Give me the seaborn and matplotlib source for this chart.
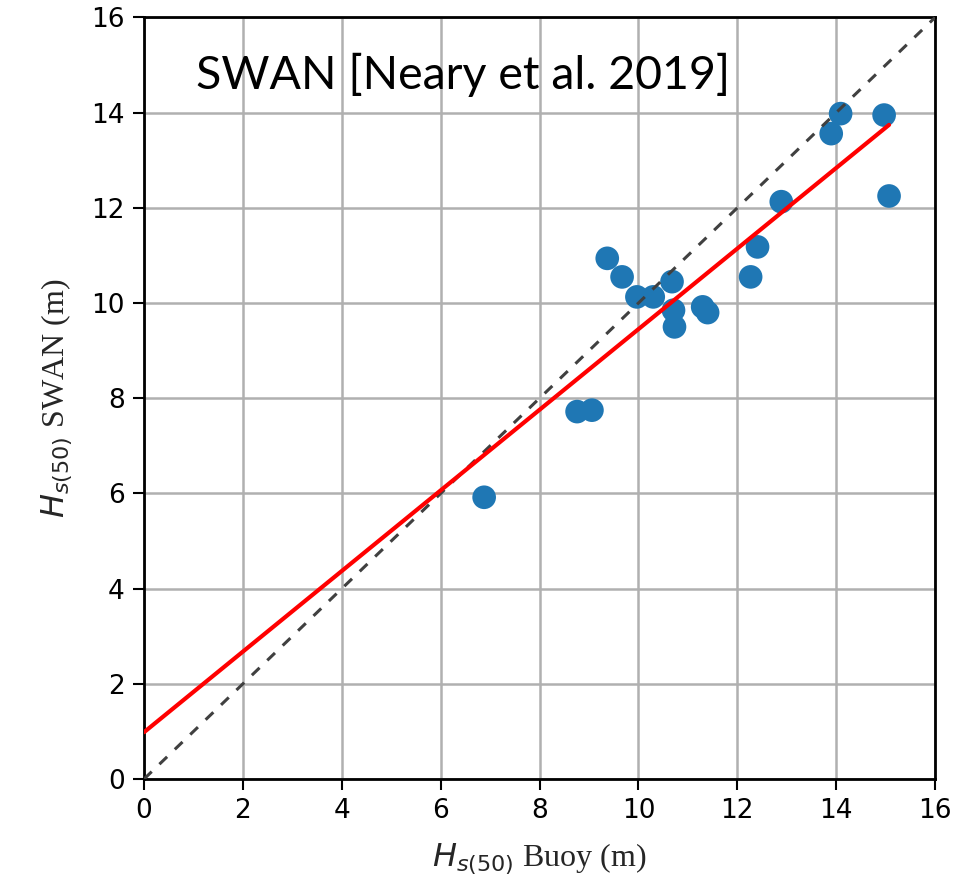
import numpy as np
import pandas as pd
import matplotlib
matplotlib.use("Agg")
import matplotlib.pyplot as plt
import seaborn as sns

# 50-year return significant wave heights (m)
buoy_hs50 = [6.88, 8.76, 9.06, 9.37, 9.67, 9.97, 10.30, 10.68, 10.71, 10.73,
             11.30, 11.40, 12.27, 12.41, 12.89, 13.90, 14.09, 14.97, 15.07]
swan_hs50 = [5.92, 7.72, 7.75, 10.94, 10.55, 10.13, 10.13, 10.45, 9.85, 9.50,
             9.92, 9.80, 10.55, 11.18, 12.13, 13.56, 13.98, 13.95, 12.25]

axis_ticks = [0, 2, 4, 6, 8, 10, 12, 14, 16]
panel_title = "SWAN [Neary et al. 2019]"

df = pd.DataFrame({"buoy": buoy_hs50, "swan": swan_hs50})

sns.set_style("white")
plt.rcParams["mathtext.fontset"] = "dejavusans"

fig = plt.figure(figsize=(9.6, 8.88), dpi=100)
ax = fig.add_axes([0.150, 0.1227, 0.824, 0.8576])

ax.grid(True, color="#b0b0b0", linewidth=1.8, zorder=0)
ax.set_axisbelow(True)

sns.scatterplot(data=df, x="buoy", y="swan", ax=ax, s=290, color="#1f77b4",
                edgecolor="none", zorder=3, legend=False)

# 1:1 reference line
ax.plot([0, 16], [0, 16], linestyle=(0, (3.5, 3.5)), color="#404040",
        linewidth=2.2, zorder=4)

# least-squares fit
slope, intercept = np.polyfit(df["buoy"], df["swan"], 1)
xfit = np.array([0, df["buoy"].max()])
ax.plot(xfit, intercept + slope * xfit, color="red", linewidth=3.0, zorder=5)

ax.set_xlim(0, 16)
ax.set_ylim(0, 16)
ax.set_xticks(axis_ticks)
ax.set_yticks(axis_ticks)
ax.tick_params(axis="both", labelsize=19, length=8, width=1.5, direction="out",
               colors="black", pad=6, bottom=True, left=True)
for sp in ax.spines.values():
    sp.set_color("black")
    sp.set_linewidth(2.0)

ax.set_xlabel(r"$H_{s(50)}$ Buoy (m)", fontsize=23, family="Liberation Serif",
              labelpad=12)
ax.set_ylabel(r"$H_{s(50)}$ SWAN (m)", fontsize=23, family="Liberation Serif",
              labelpad=12)

ax.text(0.066, 0.925, panel_title, transform=ax.transAxes, fontsize=33.5,
        family="Lato", va="center", ha="left", color="black")

fig.savefig("out.png", dpi=100)
